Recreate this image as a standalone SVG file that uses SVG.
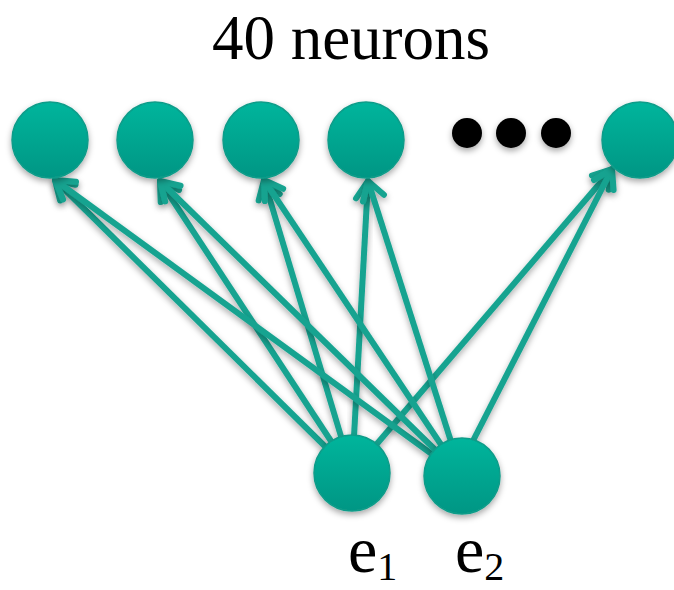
<svg xmlns="http://www.w3.org/2000/svg" width="674" height="590" viewBox="0 0 674 590">
<defs>
<linearGradient id="g" x1="0" y1="0" x2="0" y2="1">
<stop offset="0" stop-color="#00b59c"/>
<stop offset="1" stop-color="#009684"/>
</linearGradient>
<filter id="sh" x="-30%" y="-30%" width="160%" height="170%">
<feDropShadow dx="0" dy="3" stdDeviation="3" flood-color="#000" flood-opacity="0.35"/>
</filter>
<marker id="ah" markerUnits="userSpaceOnUse" markerWidth="40" markerHeight="40" refX="24" refY="20" orient="auto" viewBox="0 0 40 40">
<path d="M6 9 L24 20 L6 31" fill="none" stroke="#17a390" stroke-width="6" stroke-linecap="round" stroke-linejoin="round"/>
</marker>
</defs>
<style>
.n{fill:url(#g);stroke:#0e9c89;stroke-width:1.5;filter:url(#sh)}
.d{fill:#000;filter:url(#sh)}
.c line{stroke:#17a390;stroke-width:6;marker-end:url(#ah);filter:url(#sh)}
.t{font-family:"Liberation Serif","Times New Roman",serif;fill:#000}
</style>
<text class="t" x="351" y="59" font-size="63" text-anchor="middle">40 neurons</text>
<g class="c" id="connectors">
<line x1="352" y1="473" x2="55" y2="180"/>
<line x1="352" y1="473" x2="160" y2="181"/>
<line x1="352" y1="473" x2="264" y2="180"/>
<line x1="352" y1="473" x2="368" y2="181"/>
<line x1="352" y1="473" x2="612" y2="169"/>
<line x1="462" y1="476" x2="55" y2="180"/>
<line x1="462" y1="476" x2="160" y2="181"/>
<line x1="462" y1="476" x2="264" y2="180"/>
<line x1="462" y1="476" x2="368" y2="181"/>
<line x1="455" y1="476" x2="612" y2="169"/>
</g>
<g id="n1"><circle class="n" cx="50" cy="140" r="38"/></g>
<g id="n2"><circle class="n" cx="155" cy="140" r="38"/></g>
<g id="n3"><circle class="n" cx="261" cy="140" r="38"/></g>
<g id="n4"><circle class="n" cx="366" cy="140" r="38"/></g>
<g id="dots">
<circle class="d" cx="467" cy="133" r="15"/>
<circle class="d" cx="511" cy="133" r="15"/>
<circle class="d" cx="556" cy="133" r="15"/>
</g>
<g id="n40"><circle class="n" cx="640" cy="140" r="38"/></g>
<g id="e1"><circle class="n" cx="352" cy="473" r="38"/>
<text class="t" x="348" y="572" font-size="66">e<tspan font-size="40" dy="8">1</tspan></text></g>
<g id="e2"><circle class="n" cx="462" cy="476" r="38"/>
<text class="t" x="455" y="572" font-size="66">e<tspan font-size="40" dy="8">2</tspan></text></g>
</svg>
